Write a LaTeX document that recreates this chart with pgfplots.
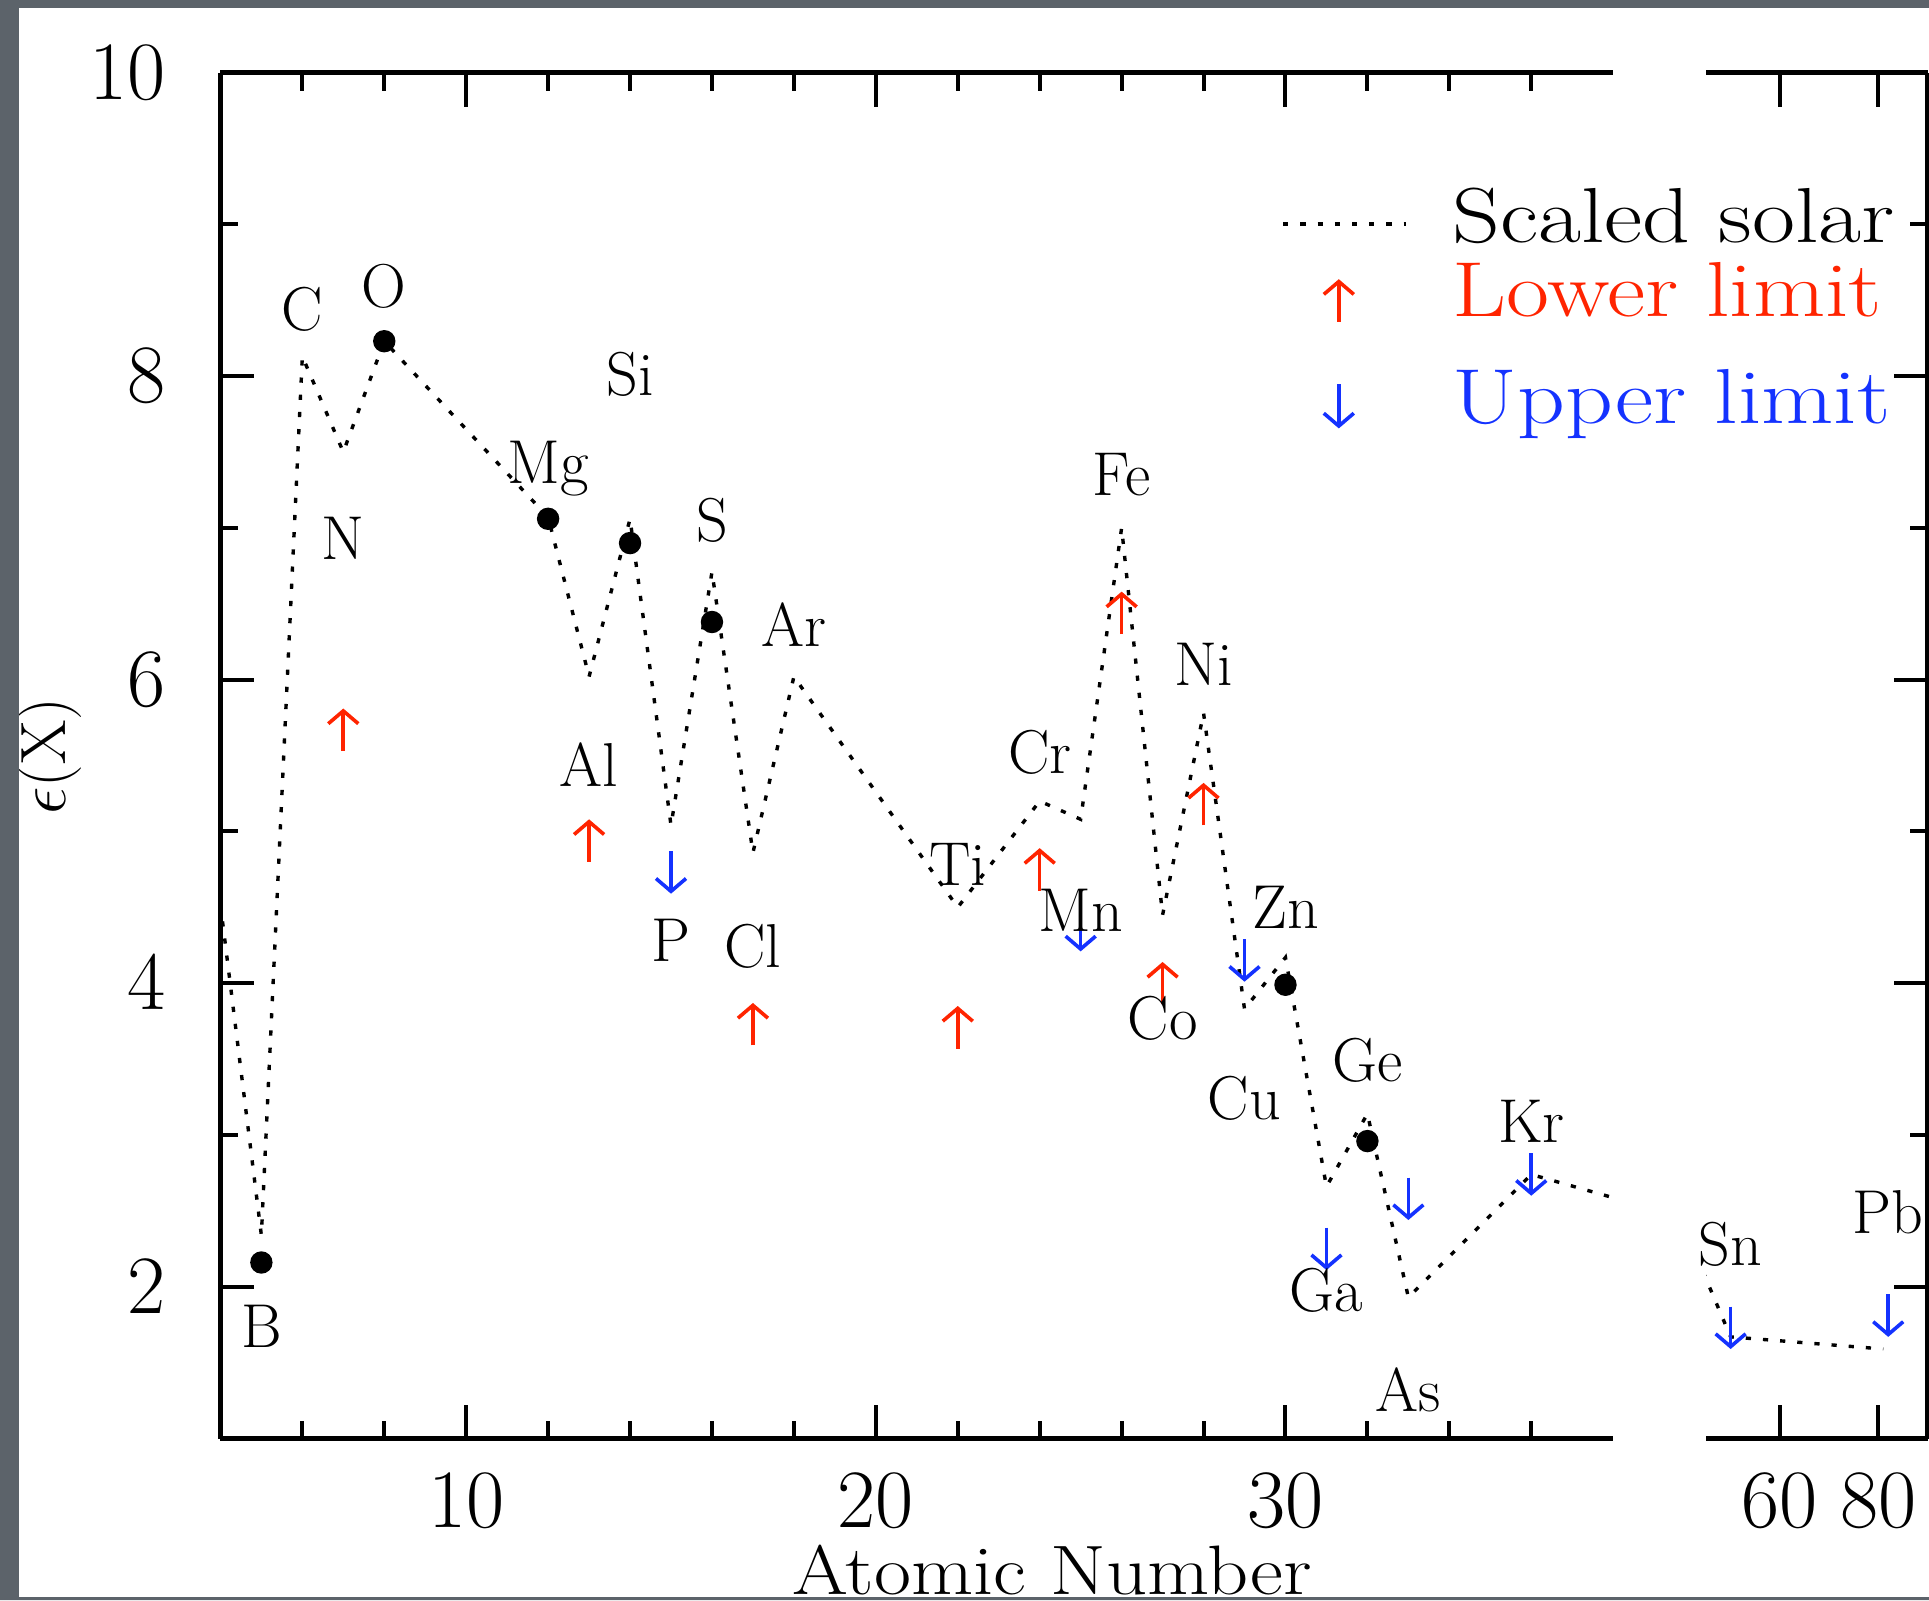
\documentclass[border=0pt]{standalone}
\usepackage{pgfplots}
\usepackage{pgfplotstable}
\pgfplotsset{compat=1.18}
\usetikzlibrary{arrows.meta}
\definecolor{limred}{RGB}{255,36,0}
\definecolor{limblue}{RGB}{20,50,255}
\definecolor{bggray}{RGB}{92,99,106}

\pgfplotstableread{
Z eps
4 4.52
5 2.34
6 8.13
7 7.50
8 8.23
12 7.07
13 6.02
14 7.06
15 5.04
16 6.71
17 4.86
18 6.02
22 4.50
24 5.20
25 5.08
26 7.00
27 4.45
28 5.78
29 3.83
30 4.17
31 2.66
32 3.14
33 1.93
36 2.74
50 1.67
81 1.59
}\solar

\pgfplotstableread{
Z eps
5 2.16
8 8.23
12 7.06
14 6.90
16 6.38
30 3.99
32 2.96
}\measured

\pgfplotstableread{
Z eps
7 5.53
13 4.80
17 3.59
22 3.57
24 4.61
26 6.30
27 3.86
28 5.04
}\lowlim

\pgfplotstableread{
Z eps
15 4.87
25 4.49
29 4.29
31 2.39
33 2.72
36 2.88
50 1.87
82 1.95
}\uplim

\pgfplotstableread{
Z y label
5 1.74 B
6 8.44 C
7 6.93 N
8 8.59 O
12 7.39 Mg
13 5.44 Al
14 8.01 Si
15 4.28 P
16 7.05 S
17 4.24 Cl
18 6.36 Ar
22 4.78 Ti
24 5.52 Cr
25 4.48 Mn
26 7.35 Fe
27 3.77 Co
28 6.10 Ni
29 3.24 Cu
30 4.50 Zn
31 1.98 Ga
32 3.49 Ge
33 1.32 As
36 3.09 Kr
}\labelsA

\pgfplotstableread{
Z y label
50 2.28 Sn
82 2.49 Pb
}\labelsB

\tikzset{
  solarline/.style={black, line width=0.85pt, dash pattern=on 1.3pt off 3pt},
  upstyle/.style={limred, line width=0.9pt, -{Straight Barb[length=3.2pt,width=7.5pt]}},
  downstyle/.style={limblue, line width=0.9pt, -{Straight Barb[length=3.2pt,width=7.5pt]}},
}

\pgfplotsset{
  brokenaxis/.style={
    scale only axis,
    height=341.5pt,
    ymin=1, ymax=10,
    axis x line*=box,
    tick align=inside,
    major tick length=8.5pt,
    minor tick length=4.5pt,
    every tick/.style={black, line width=1pt},
    axis line style={line width=1.1pt},
    ticklabel style={font=\fontsize{19.5}{22}\selectfont},
    xticklabel style={anchor=center, inner sep=0pt, yshift=-15.65pt},
    ytick={2,4,6,8,10},
    minor ytick={3,5,7,9},
  },
  elabel/.style={only marks, mark=none, nodes near coords, point meta=explicit symbolic,
    every node near coord/.append style={anchor=center, inner sep=0pt, black,
      font=\fontsize{15.5}{18}\selectfont}},
}

\begin{document}
\begin{tikzpicture}[x=1pt,y=1pt]
\useasboundingbox (0,0) rectangle (482.25,400);
\fill[white] (0,0) rectangle (482.25,400);

% panel 1
\begin{axis}[brokenaxis,
  at={(55.1pt,40.36pt)}, anchor=south west,
  width=348.2pt,
  xmin=4, xmax=38,
  axis y line*=left,
  xtick={10,20,30},
  minor xtick={6,8,12,14,16,18,22,24,26,28,32,34,36},
  yticklabel style={anchor=east, inner sep=0pt, xshift=-13.6pt},
]
\addplot[solarline] table[x=Z,y=eps] {\solar};
\addplot[only marks, mark=*, mark size=2.6pt, black] table[x=Z,y=eps] {\measured};
\addplot[upstyle, quiver={u=0,v=0.28}] table[x=Z,y=eps] {\lowlim};
\addplot[downstyle, quiver={u=0,v=-0.28}] table[x=Z,y=eps] {\uplim};
\addplot[elabel] table[x=Z,y=y,meta=label] {\labelsA};
\end{axis}

% panel 2
\begin{axis}[brokenaxis,
  at={(426.5pt,40.36pt)}, anchor=south west,
  width=55.4pt,
  xmin=45, xmax=90,
  axis y line*=right,
  xtick={60,80},
  yticklabels={},
]
\addplot[solarline] table[x=Z,y=eps] {\solar};
\addplot[downstyle, quiver={u=0,v=-0.28}] table[x=Z,y=eps] {\uplim};
\addplot[elabel] table[x=Z,y=y,meta=label] {\labelsB};
\end{axis}

% axis titles
\node[rotate=90, inner sep=0pt, font=\fontsize{16}{19}\selectfont] at (12.4,211) {$\epsilon$(X)};
\node[anchor=base, inner sep=0pt, xscale=1.15, font=\fontsize{17.5}{21}\selectfont] at (263,1.4) {Atomic Number};

% legend
\draw[solarline] (320.8,344) -- (351.6,344);
\node[anchor=base west, inner sep=0pt, xscale=1.2, font=\fontsize{19.5}{22}\selectfont] at (362.9,339.4) {Scaled solar};
\draw[upstyle] (334.7,319.6) -- (334.7,330.2);
\node[anchor=base west, inner sep=0pt, xscale=1.2, text=limred, font=\fontsize{19.5}{22}\selectfont] at (362.9,320.9) {Lower limit};
\draw[downstyle] (334.7,303.9) -- (334.7,292.9);
\node[anchor=base west, inner sep=0pt, xscale=1.2, text=limblue, font=\fontsize{19.5}{22}\selectfont] at (362.9,294.1) {Upper limit};

% slide border
\fill[bggray, even odd rule] (0,0) rectangle (482.25,400) (4.7,0.75) rectangle (482.25,398);
\end{tikzpicture}
\end{document}
